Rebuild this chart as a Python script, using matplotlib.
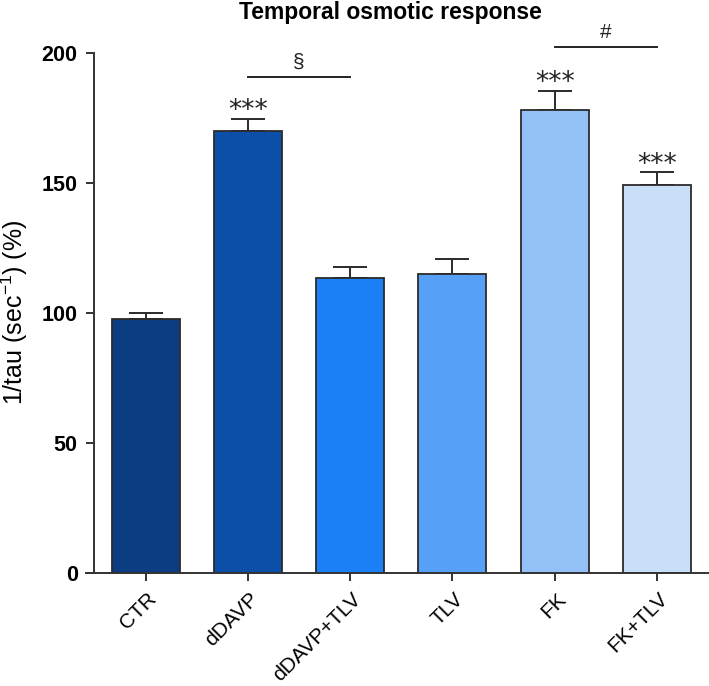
import matplotlib
matplotlib.use("Agg")
import matplotlib.pyplot as plt
import matplotlib.transforms as mtransforms
import numpy as np

plt.rcParams['font.family'] = ['Liberation Sans', 'DejaVu Sans']
plt.rcParams['mathtext.fontset'] = 'custom'
plt.rcParams['mathtext.rm'] = 'Liberation Sans'
plt.rcParams['mathtext.it'] = 'Liberation Sans:italic'

# data
groups = ['CTR', 'dDAVP', 'dDAVP+TLV', 'TLV', 'FK', 'FK+TLV']
means = [97.6, 169.9, 113.2, 115.0, 178.0, 149.0]
sems = [2.2, 4.6, 4.5, 5.6, 7.4, 5.0]
stars = ['', '***', '', '', '***', '***']
colors = ['#0c3d82', '#0b4fa9', '#1b7ff6', '#57a0f7', '#93c0f7', '#c9def7']
yticks = [0, 50, 100, 150, 200]

edge = '#2b2b2b'
x = np.arange(len(groups))

fig = plt.figure(figsize=(7.09, 6.86), dpi=100)
ax = fig.add_axes([0.1213, 0.1652, 0.8787, 0.758])

ax.bar(x, means, width=0.665, color=colors, edgecolor=edge, linewidth=1.3, zorder=2)
ax.errorbar(x, means, yerr=[np.zeros(len(sems)), sems], fmt='none',
            ecolor=edge, elinewidth=1.4, capsize=12.5, capthick=1.4, zorder=1)

# asterisks above the error bars
for i, s in enumerate(stars):
    if s:
        ax.text(x[i], means[i] + sems[i] + 0.3, s, ha='center', va='baseline',
                fontsize=19, color='#222222', family='DejaVu Sans', clip_on=False)

# comparison lines
ax.plot([x[1], x[2]], [190.6, 190.6], color='#222222', lw=1.4, clip_on=False)
ax.text((x[1] + x[2]) / 2, 192.8, '§', ha='center', va='bottom', fontsize=15,
        color='#222222')
ax.plot([x[4], x[5]], [202.3, 202.3], color='#222222', lw=1.4, clip_on=False)
ax.text((x[4] + x[5]) / 2, 204.3, '#', ha='center', va='bottom', fontsize=15,
        color='#222222', clip_on=False)

ax.set_xlim(-0.582, 5.508)
ax.set_ylim(0, 200)
ax.spines['top'].set_visible(False)
ax.spines['right'].set_visible(False)
ax.spines['left'].set_position(('data', -0.50))
for sp in ['left', 'bottom']:
    ax.spines[sp].set_color('#333333')
    ax.spines[sp].set_linewidth(1.4)

ax.set_yticks(yticks)
ax.set_yticklabels([str(v) for v in yticks], fontsize=15.5, fontweight='bold')
ax.set_xticks(x)
ax.set_xticklabels(groups, fontsize=15, rotation=45, ha='right', va='baseline',
                   rotation_mode='anchor')
ax.tick_params(axis='both', direction='out', length=6, width=1.4, color='#333333')
ax.tick_params(axis='x', pad=13.5)
ax.tick_params(axis='y', pad=6)

# shift rotated labels slightly right of their ticks
shift = mtransforms.ScaledTranslation(0.12, 0, fig.dpi_scale_trans)
for lab in ax.get_xticklabels():
    lab.set_transform(lab.get_transform() + shift)

ax.set_ylabel(r'1/tau (sec$^{-1}$) (%)', fontsize=18)
ax.yaxis.set_label_coords(-0.090, 0.5)

fig.text(0.55, 1 - 19.5 / 686, 'Temporal osmotic response', ha='center',
         va='baseline', fontsize=16.5, fontweight='bold')

fig.savefig('out.png', dpi=100)
